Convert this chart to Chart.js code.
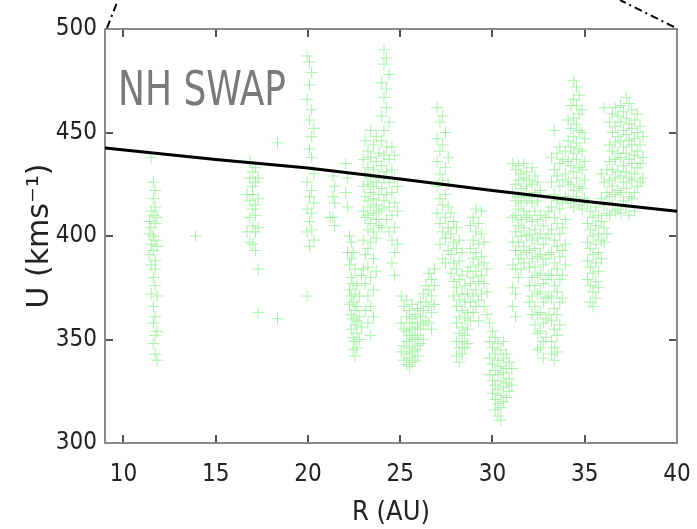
<!DOCTYPE html>
<html>
<head>
<meta charset="utf-8">
<script src="https://cdn.jsdelivr.net/npm/chart.js@4.4.1/dist/chart.umd.min.js"></script>
<style>
  html, body { margin: 0; padding: 0; background: #fff; }
  #wrap { width: 697px; height: 529px; }
</style>
</head>
<body>
<div id="wrap"><canvas id="chart"></canvas></div>
<script>
// tick values on the axes
const xTicks = [10, 15, 20, 25, 30, 35, 40];
const yTicks = [300, 350, 400, 450, 500];

// NH SWAP samples, one column of speeds (km/s) per heliocentric distance (AU)
const swapR = [
  11.40, 11.50, 11.62, 11.72, 11.82, 13.90,
  16.70, 16.85, 17.00, 17.15, 17.30, 18.35,
  19.95, 20.08, 20.20, 20.32, 21.20, 21.35, 21.45,
  22.05, 22.15, 22.25, 22.35, 22.45, 22.55, 22.65, 22.78, 22.90,
  23.00, 23.10, 23.25, 23.40, 23.55, 23.70, 23.85,
  24.00, 24.12, 24.25, 24.40, 24.55, 24.70, 24.85,
  25.05, 25.20, 25.35, 25.50, 25.65, 25.80, 25.95, 26.10, 26.25, 26.40,
  26.55, 26.70, 26.85,
  27.00, 27.15, 27.30, 27.45, 27.60,
  27.75, 27.90, 28.05, 28.20, 28.35, 28.50, 28.65,
  28.80, 28.95, 29.10, 29.25, 29.40, 29.55, 29.70,
  29.85, 30.00, 30.15, 30.30, 30.45, 30.60, 30.75, 30.90, 31.05,
  31.10, 31.25, 31.40, 31.55, 31.70, 31.85, 32.00, 32.15, 32.30, 32.45, 32.60, 32.75, 32.90, 33.05,
  33.20, 33.35, 33.50, 33.65, 33.80, 33.95,
  34.10, 34.25, 34.40, 34.55, 34.70, 34.85, 35.00,
  35.15, 35.30, 35.45, 35.60, 35.75, 35.90, 36.05, 36.20,
  36.35, 36.50, 36.65, 36.80, 36.95, 37.10, 37.25, 37.40, 37.55, 37.70, 37.85, 38.00, 38.15
];
const swapU = [
  [407, 401, 391], [438, 412, 404, 396, 386, 372], [426, 418, 410, 400, 393, 380, 366, 358, 348],
  [422, 414, 406, 398, 388, 384, 376, 361, 352, 343], [409, 395, 371, 354, 340], [400],
  [420, 402], [436, 428, 417, 409, 397], [431, 424, 420, 413, 405, 396],
  [433, 426, 415, 410, 402, 393], [428, 418, 404, 384, 363], [445, 360],
  [487, 466, 426, 413, 402, 371], [484, 473, 456, 442, 419, 407, 395], [479, 461, 448, 438, 422, 411, 403],
  [452, 430, 416, 398], [409], [429, 419, 409], [424, 416, 405],
  [435, 421], [428, 414, 392], [400, 386, 374, 367], [397, 389, 380, 371, 362, 355],
  [392, 377, 368, 360, 351, 345], [384, 372, 364, 357, 349, 342], [376, 366, 359, 353, 346],
  [371, 361, 350], [381, 356],
  [437, 424, 412, 398, 384], [446, 430, 419, 409, 391, 377, 364],
  [441, 433, 425, 417, 410, 403, 394, 385, 371, 358], [451, 438, 428, 421, 414, 406, 397, 380, 366, 352],
  [444, 432, 424, 418, 411, 402, 389, 374, 361], [448, 436, 426, 415, 408, 399, 383], [440, 429, 420, 412, 405],
  [474, 458, 446, 434, 423, 413, 404], [490, 483, 467, 451, 439, 428, 417], [486, 471, 462, 443, 431, 420, 408],
  [478, 455, 437, 426, 414, 402], [443, 432, 421, 410, 398, 387], [439, 428, 416, 404, 392, 381], [424, 412, 396],
  [371, 358, 344], [366, 355, 347, 340], [369, 361, 354, 349, 343, 338], [364, 358, 352, 346, 341, 337],
  [367, 360, 355, 350, 344, 339], [362, 356, 351, 345, 340], [365, 358, 352, 347, 342], [368, 361, 355, 348],
  [372, 364, 357, 350], [376, 368, 359],
  [382, 374, 366, 358], [379, 371, 363, 355], [384, 376, 367],
  [462, 447, 436, 424, 411], [455, 441, 430, 418, 406, 396], [458, 444, 427, 415, 402, 389],
  [450, 433, 420, 409, 399, 387], [438, 425, 414, 404, 393],
  [411, 401, 391, 382], [407, 397, 387, 378, 371], [404, 394, 384, 375, 366, 358, 349, 342],
  [398, 388, 379, 369, 361, 353, 346, 339], [392, 381, 372, 364, 356, 349, 343], [376, 368, 360, 352, 346],
  [383, 372, 363, 355, 348],
  [405, 394, 385, 377, 368, 359], [409, 398, 389, 380, 371, 363], [413, 402, 392, 383, 374, 366],
  [406, 396, 386, 378, 369, 359], [412, 401, 390, 381, 372], [397, 387, 377, 366], [384, 373, 362],
  [358, 349, 341, 333], [354, 346, 338, 330, 324], [351, 343, 335, 328, 321, 316],
  [348, 340, 333, 326, 319, 313], [345, 337, 330, 323, 317, 311], [349, 341, 334, 327, 320],
  [343, 336, 329, 322], [339, 331, 325], [336, 328],
  [435, 421, 409, 397, 386, 375, 366], [432, 425, 417, 410, 402, 393, 384, 372, 361],
  [434, 427, 419, 413, 405, 397, 389, 380], [430, 423, 416, 408, 400, 391, 384],
  [435, 428, 420, 412, 404, 395, 387], [431, 424, 417, 409, 400, 392],
  [427, 419, 410, 401, 393, 385, 376, 368], [433, 425, 416, 407, 398, 389, 380, 371, 362],
  [429, 421, 412, 403, 394, 385, 376, 366, 357], [426, 417, 408, 399, 390, 381, 372, 362, 353, 345],
  [422, 410, 401, 391, 382, 373, 363, 354, 346], [405, 396, 386, 377, 368, 358, 349, 341],
  [409, 399, 389, 379, 370, 360, 351], [412, 401, 391, 381, 371, 362],
  [438, 426, 414, 403, 392, 381, 370, 359, 349, 343], [451, 432, 420, 409, 398, 387, 376, 365, 355, 346, 340],
  [440, 429, 417, 406, 395, 384, 373, 362, 352, 344], [443, 435, 424, 413, 401, 390, 379, 368, 357],
  [437, 427, 416, 404, 393, 381, 370], [441, 430, 419, 408, 396, 386],
  [456, 446, 436, 426, 418], [463, 452, 443, 434, 425, 416], [475, 466, 457, 448, 440, 431, 422, 414],
  [472, 463, 454, 445, 437, 428, 419], [468, 459, 451, 442, 433, 424, 415], [461, 450, 441, 432, 423, 413],
  [447, 436, 427, 418],
  [416, 406, 397, 388, 379], [412, 403, 394, 385, 376, 368], [409, 400, 391, 382, 373, 366],
  [414, 405, 396, 387, 378, 370], [410, 401, 392, 383, 375], [430, 418, 407, 398, 389],
  [462, 426, 415, 404, 397], [432, 421, 411, 401],
  [455, 444, 436, 427, 419, 410], [459, 450, 441, 432, 424, 415], [462, 453, 445, 437, 428, 420, 412],
  [458, 448, 440, 431, 422, 413], [463, 455, 446, 438, 429, 421, 411], [460, 451, 443, 434, 426, 417],
  [467, 457, 449, 440, 431, 423, 414], [464, 454, 446, 437, 428, 419, 410], [461, 452, 444, 435, 427, 418],
  [456, 447, 439, 430, 421, 412], [459, 450, 441, 433, 424], [453, 444, 435, 426], [448, 438, 428]
];

// fitted trend line
const fitR = [9, 15, 20, 25, 30, 35, 40];
const fitU = [442.5, 437, 432.8, 427.5, 422, 416.8, 412];

const swapPoints = [];
swapR.forEach((r, i) => {
  swapU[i].forEach(u => swapPoints.push({ x: r, y: u }));
});
const fitPoints = fitR.map((r, i) => ({ x: r, y: fitU[i] }));

const tickFont = { family: "'DejaVu Sans Condensed', 'DejaVu Sans', sans-serif", size: 24 };
const axisGray = '#8a8a8a';

// label inside the plot + the dash-dot zoom lines above it
const extras = {
  id: 'extras',
  afterDraw(chart) {
    const { ctx, chartArea } = chart;
    ctx.save();
    ctx.strokeStyle = '#000';
    ctx.lineWidth = 2;
    ctx.setLineDash([8, 4, 2, 4]);
    ctx.beginPath();
    ctx.moveTo(chartArea.left + 2, chartArea.top - 1);
    ctx.lineTo(chartArea.left + 13, 0);
    ctx.moveTo(chartArea.right - 3, chartArea.top - 2);
    ctx.lineTo(chartArea.right - 57, 0);
    ctx.stroke();
    ctx.restore();

    ctx.save();
    ctx.fillStyle = '#7a7a7a';
    ctx.font = "40px 'DejaVu Sans Condensed', 'DejaVu Sans', sans-serif";
    ctx.textBaseline = 'alphabetic';
    ctx.translate(chartArea.left + 13, chartArea.top + 76);
    ctx.scale(1, 1.2);
    ctx.fillText('NH SWAP', 0, 0);
    ctx.restore();
  }
};

const canvas = document.querySelector('#chart');

new Chart(canvas, {
  type: 'scatter',
  data: {
    datasets: [
      {
        type: 'line',
        label: 'fit',
        data: fitPoints,
        borderColor: '#000',
        borderWidth: 3,
        pointRadius: 0,
        fill: false,
        tension: 0
      },
      {
        label: 'NH SWAP',
        data: swapPoints,
        pointStyle: 'cross',
        pointRadius: 6,
        borderColor: 'rgba(150, 240, 150, 0.8)',
        backgroundColor: 'rgba(150, 240, 150, 0.8)',
        borderWidth: 1
      }
    ]
  },
  options: {
    responsive: true,
    maintainAspectRatio: false,
    animation: false,
    layout: { padding: { top: 29, right: 20, left: 0, bottom: 0 } },
    plugins: {
      legend: { display: false },
      tooltip: { enabled: false }
    },
    scales: {
      x: {
        type: 'linear',
        position: 'bottom',
        min: 9,
        max: 40,
        afterBuildTicks: s => { s.ticks = xTicks.map(v => ({ value: v })); },
        afterFit: s => { s.height = 86; s.paddingLeft = 0; s.paddingRight = 0; },
        border: { color: axisGray, width: 2 },
        grid: { drawOnChartArea: false, tickLength: -8, color: '#555', lineWidth: 2 },
        ticks: { font: tickFont, color: '#222', padding: 25, maxRotation: 0 },
        title: {
          display: true,
          text: 'R (AU)',
          color: '#222',
          font: { family: "'DejaVu Sans Condensed', 'DejaVu Sans', sans-serif", size: 27 },
          padding: { top: 0, bottom: 0 }
        }
      },
      y: {
        type: 'linear',
        position: 'left',
        min: 300,
        max: 500,
        afterBuildTicks: s => { s.ticks = yTicks.map(v => ({ value: v })); },
        afterFit: s => { s.width = 105; s.paddingTop = 0; s.paddingBottom = 0; },
        border: { color: axisGray, width: 2 },
        grid: { drawOnChartArea: false, tickLength: -8, color: '#555', lineWidth: 2 },
        ticks: { font: tickFont, color: '#222', padding: 16 },
        title: {
          display: true,
          text: 'U (kms\u207B\u00B9)',
          color: '#222',
          font: { family: "'DejaVu Sans', sans-serif", size: 30 },
          padding: { top: 22, bottom: 0 }
        }
      },
      x2: {
        type: 'linear',
        position: 'top',
        min: 9,
        max: 40,
        afterBuildTicks: s => { s.ticks = xTicks.map(v => ({ value: v })); },
        afterFit: s => { s.height = 0; s.paddingLeft = 0; s.paddingRight = 0; },
        border: { color: axisGray, width: 2 },
        grid: { drawOnChartArea: false, tickLength: -8, color: '#555', lineWidth: 2 },
        ticks: { display: false }
      },
      y2: {
        type: 'linear',
        position: 'right',
        min: 300,
        max: 500,
        afterBuildTicks: s => { s.ticks = yTicks.map(v => ({ value: v })); },
        afterFit: s => { s.width = 0; s.paddingTop = 0; s.paddingBottom = 0; },
        border: { color: axisGray, width: 2 },
        grid: { drawOnChartArea: false, tickLength: -8, color: '#555', lineWidth: 2 },
        ticks: { display: false }
      }
    }
  },
  plugins: [extras]
});
</script>
</body>
</html>
